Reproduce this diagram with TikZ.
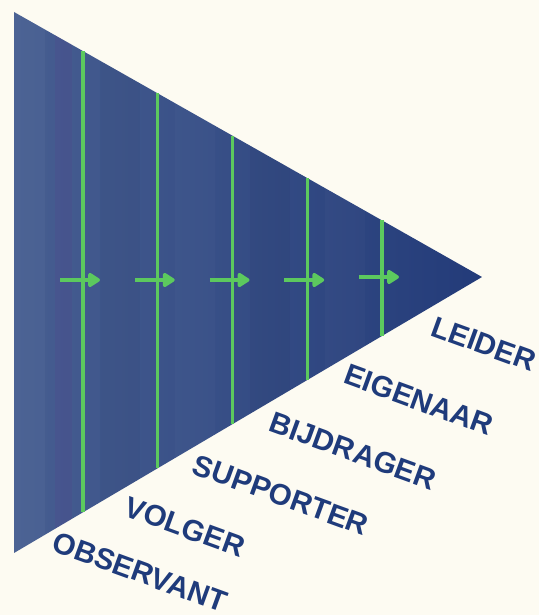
\documentclass[tikz,border=0pt]{standalone}
\usepackage{fontspec}
\setmainfont{Liberation Sans}
\usetikzlibrary{calc,arrows.meta}
\definecolor{bg}{HTML}{FDFBF2}
\definecolor{bleft}{HTML}{475E91}
\definecolor{bright}{HTML}{233B79}
\definecolor{grn}{HTML}{5CC95E}
\definecolor{txt}{HTML}{1F3B7B}
\tikzset{
  stage/.style={line width=2.6pt, draw=grn},
  flow/.style={line width=3pt, draw=grn, -{Triangle[length=10pt,width=12pt,round,fill=grn]}},
  lbl/.style={text=txt, font=\fontsize{22.2}{25}\selectfont\bfseries, rotate=-20, inner sep=0pt, anchor=center}
}
\begin{document}
\begin{tikzpicture}[x=0.75pt,y=0.75pt]
\fill[bg] (0,0) rectangle (539,615);
\useasboundingbox (0,0) rectangle (539,615);
\coordinate (A) at (14,603);
\coordinate (B) at (14,62);
\coordinate (C) at (482,338);
\shade[left color=bleft, right color=bright, shading angle=90] (A) -- (C) -- (B) -- cycle;
% subtle bands
\begin{scope}
\clip (A) -- (C) -- (B) -- cycle;
\fill[white,opacity=0.03] (14,0) rectangle (45,615);
\fill[violet,opacity=0.06] (55,0) rectangle (72,615);
\fill[black,opacity=0.03] (100,0) rectangle (140,615);
\fill[white,opacity=0.02] (175,0) rectangle (215,615);
\fill[black,opacity=0.03] (250,0) rectangle (290,615);
\fill[white,opacity=0.02] (325,0) rectangle (365,615);
\end{scope}
% vertical stage lines
\foreach \i/\xx in {1/83,2/157.75,3/232.5,4/307.25,5/382}{
  \pgfmathsetmacro{\t}{(\xx-14)/468}
  \coordinate (T\i) at ($(A)!\t!(C)$);
  \coordinate (U\i) at ($(B)!\t!(C)$);
  \draw[stage] (T\i) -- (U\i);
}
% arrows
\foreach \i/\xx/\yy in {1/83/335,2/157.75/335,3/232.5/335,4/307.25/335,5/382/338}{
  \coordinate (P\i) at (\xx-23,\yy);
  \coordinate (Q\i) at (\xx+17,\yy);
  \draw[flow] (P\i) -- (Q\i);
}
\node[lbl] (leider) at (484,271) {LEIDER};
\node[lbl] (eigenaar) at (419,215) {EIGENAAR};
\node[lbl] (bijdrager) at (353,164) {BIJDRAGER};
\node[lbl] (supporter) at (281,120) {SUPPORTER};
\node[lbl] (volger) at (185,88) {VOLGER};
\node[lbl] (observant) at (140,43) {OBSERVANT};
\end{tikzpicture}
\end{document}
